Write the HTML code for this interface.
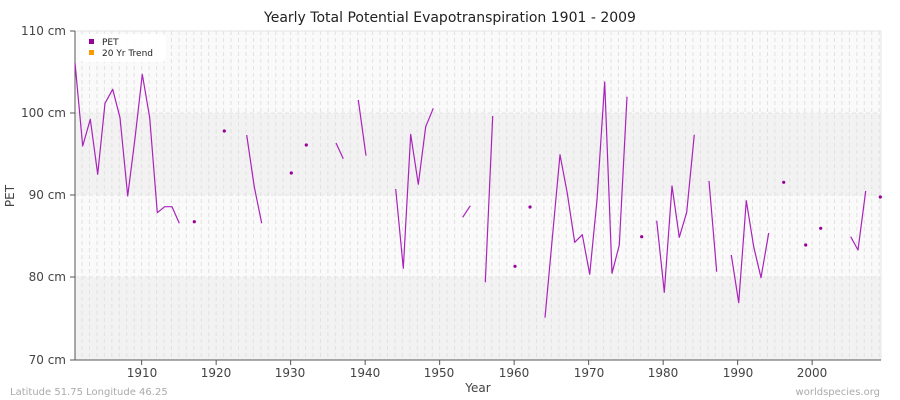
<!DOCTYPE html>
<html><head><meta charset="utf-8"><style>
html,body{margin:0;padding:0;background:#fff;}
svg{display:block;font-family:"DejaVu Sans","Liberation Sans",sans-serif;}
</style></head><body>
<svg width="900" height="400" viewBox="0 0 900 400" xmlns="http://www.w3.org/2000/svg">
<rect width="900" height="400" fill="#fff"/>
<text x="450" y="22" text-anchor="middle" font-size="14" fill="#222">Yearly Total Potential Evapotranspiration 1901 - 2009</text>
<rect x="75" y="31" width="806" height="82" fill="#fafafa"/>
<rect x="75" y="113" width="806" height="82" fill="#f2f2f2"/>
<rect x="75" y="195" width="806" height="82" fill="#fafafa"/>
<rect x="75" y="277" width="806" height="83" fill="#f2f2f2"/>
<g id="vg" stroke="#e2e2e2" stroke-width="1" stroke-dasharray="4,3"></g>
<g stroke="#e4e4e4" stroke-width="1" stroke-dasharray="4,3">
<line x1="75" x2="881" y1="113" y2="113"/><line x1="75" x2="881" y1="195" y2="195"/><line x1="75" x2="881" y1="277" y2="277"/>
</g>
<line x1="75" y1="31" x2="881" y2="31" stroke="#e6e6e6"/>
<line x1="881" y1="31" x2="881" y2="360" stroke="#e6e6e6"/>
<g stroke="#555" stroke-width="1">
<line x1="75" y1="31" x2="75" y2="360"/><line x1="70" y1="360" x2="881" y2="360"/>
<line x1="70" y1="31" x2="75" y2="31"/><line x1="70" y1="113" x2="75" y2="113"/><line x1="70" y1="195" x2="75" y2="195"/><line x1="70" y1="277" x2="75" y2="277"/>
</g>
<g id="xt" stroke="#555"></g>
<g font-size="12" fill="#444" text-anchor="end">
<text x="66" y="35">110 cm</text><text x="66" y="117">100 cm</text><text x="66" y="199">90 cm</text><text x="66" y="281">80 cm</text><text x="66" y="364">70 cm</text>
</g>
<g font-size="12" fill="#444" text-anchor="middle">
<text x="142" y="377">1910</text><text x="216" y="377">1920</text><text x="290" y="377">1930</text><text x="365" y="377">1940</text><text x="439" y="377">1950</text><text x="514" y="377">1960</text><text x="589" y="377">1970</text><text x="663" y="377">1980</text><text x="738" y="377">1990</text><text x="812" y="377">2000</text>
<text x="478" y="392" font-size="12">Year</text>
</g>
<text x="14" y="196" font-size="12" fill="#444" text-anchor="middle" transform="rotate(-90 14 196)">PET</text>
<text x="10" y="395" font-size="10" fill="#aaa">Latitude 51.75 Longitude 46.25</text>
<text x="880" y="395" font-size="10" fill="#aaa" text-anchor="end">worldspecies.org</text>
<rect x="80" y="34" width="86" height="28" rx="4" fill="#fff" opacity="0.9"/>
<rect x="89" y="39" width="5" height="5" fill="#990099"/>
<rect x="89" y="50" width="5" height="5" fill="#ff9900"/>
<text x="102" y="45" font-size="9" fill="#222">PET</text>
<text x="102" y="56" font-size="9" fill="#222">20 Yr Trend</text>
<g fill="none" stroke="#aa22bb" stroke-width="1.2" stroke-linejoin="round">
<polyline points="75,62.7 82.7,146 90.3,119.3 97.7,174.3 105,103.3 112.7,89.3 120,117.7 127.7,196 135,138.3 142.3,74.3 149.7,117.7 157.3,212.7 164.7,206.7 172,206.7 179.3,223.3"/>
<polyline points="246.7,135 254.3,187 261.7,223.3"/>
<polyline points="336,143 343.3,158.7"/>
<polyline points="358.3,100 366,155.7"/>
<polyline points="395.7,189 403.3,268.3 410.7,134.3 418.3,184.3 425.7,126.7 433.3,108.3"/>
<polyline points="462.7,217.3 470.3,205.7"/>
<polyline points="485.3,282.3 492.7,116"/>
<polyline points="545,317.7 552.5,236 560,154.7 567.3,193.3 574.7,242.3 582.3,234.7 589.7,274.3 597,200 604.7,82 612,273.3 619.3,245 627,96.7"/>
<polyline points="656.7,220.7 664.3,292.3 672,186 679.3,237.3 686.7,212.3 694.3,134.7"/>
<polyline points="709,181 716.7,271.7"/>
<polyline points="731.3,255 738.7,302.7 746.3,200.7 753.7,246.7 761,277.7 768.7,233"/>
<polyline points="850.7,236.7 858,250 865.7,191"/>
</g>
<g fill="#990099">
<circle cx="194.3" cy="221.7" r="1.6"/><circle cx="224.3" cy="131" r="1.6"/><circle cx="291.3" cy="173" r="1.6"/><circle cx="306.3" cy="145" r="1.6"/>
<circle cx="515" cy="266.3" r="1.6"/><circle cx="530" cy="207" r="1.6"/><circle cx="641.7" cy="236.7" r="1.6"/>
<circle cx="783.7" cy="182.3" r="1.6"/><circle cx="805.7" cy="245" r="1.6"/><circle cx="820.7" cy="228.3" r="1.6"/><circle cx="880.3" cy="197" r="1.6"/>
</g>
<script>
var ns="http://www.w3.org/2000/svg",g=document.getElementById("vg"),t=document.getElementById("xt");
for(var y=1902;y<=2009;y++){var x=74.6+(y-1901)*7.45;var l=document.createElementNS(ns,"line");l.setAttribute("x1",x);l.setAttribute("x2",x);l.setAttribute("y1",31);l.setAttribute("y2",360);g.appendChild(l);
if(y%10==0){var k=document.createElementNS(ns,"line");k.setAttribute("x1",x);k.setAttribute("x2",x);k.setAttribute("y1",360);k.setAttribute("y2",365);t.appendChild(k);}}
</script>
</svg>
</body></html>
